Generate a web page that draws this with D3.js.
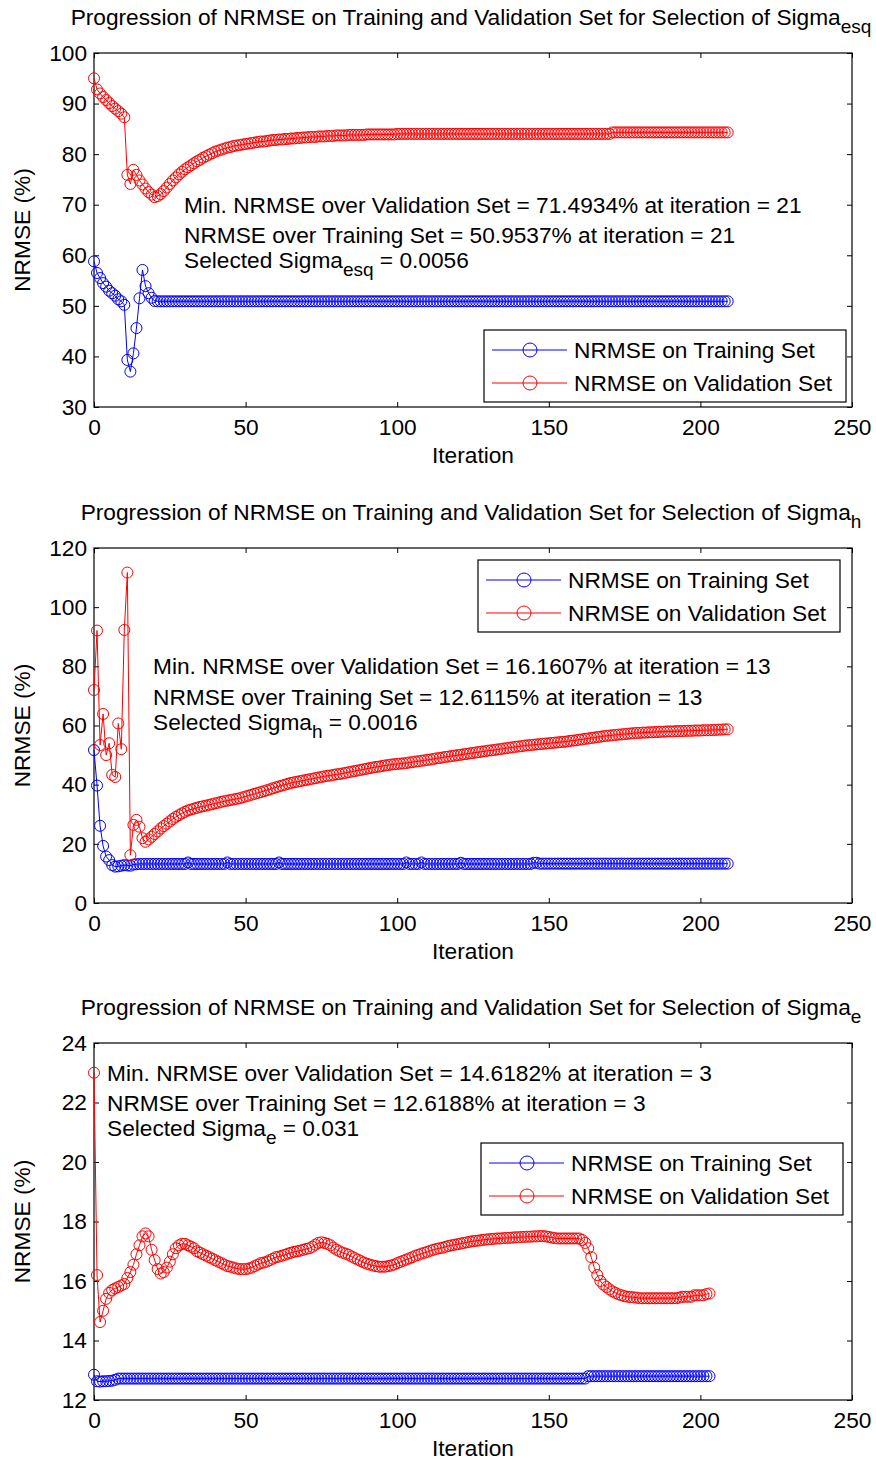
<!DOCTYPE html>
<html>
<head>
<meta charset="utf-8">
<script src="https://cdn.jsdelivr.net/npm/d3@7"></script>
<style>
  body { margin: 0; background: #fff; }
  svg { display: block; }
  text { font-family: "Liberation Sans", Arial, sans-serif; }
</style>
</head>
<body>
<div id="chart"></div>
<script>
// ---- data ----
const xTicks = [0, 50, 100, 150, 200, 250];

// Panel 1: Sigma_esq
const esqTicks = [30, 40, 50, 60, 70, 80, 90, 100];
const esqTrain = [
  58.8, 56.5, 55.5, 54.5, 53.8, 53.0, 52.5, 52.0, 51.3, 50.9,
  50.2, 39.3, 37.0, 40.6, 45.6, 51.5, 57.1, 53.9, 52.5, 51.6,
  50.95, 50.9, 50.9, 50.9, 50.9, 50.9, 50.9, 50.9, 50.9, 50.9,
  50.9, 50.9, 50.9, 50.9, 50.9, 50.9, 50.9, 50.9, 50.9, 50.9,
  50.9, 50.9, 50.9, 50.9, 50.9, 50.9, 50.9, 50.9, 50.9, 50.9,
  50.9, 50.9, 50.9, 50.9, 50.9, 50.9, 50.9, 50.9, 50.9, 50.9,
  50.9, 50.9, 50.9, 50.9, 50.9, 50.9, 50.9, 50.9, 50.9, 50.9,
  50.9, 50.9, 50.9, 50.9, 50.9, 50.9, 50.9, 50.9, 50.9, 50.9,
  50.9, 50.9, 50.9, 50.9, 50.9, 50.9, 50.9, 50.9, 50.9, 50.9,
  50.9, 50.9, 50.9, 50.9, 50.9, 50.9, 50.9, 50.9, 50.9, 50.9,
  50.9, 50.9, 50.9, 50.9, 50.9, 50.9, 50.9, 50.9, 50.9, 50.9,
  50.9, 50.9, 50.9, 50.9, 50.9, 50.9, 50.9, 50.9, 50.9, 50.9,
  50.9, 50.9, 50.9, 50.9, 50.9, 50.9, 50.9, 50.9, 50.9, 50.9,
  50.9, 50.9, 50.9, 50.9, 50.9, 50.9, 50.9, 50.9, 50.9, 50.9,
  50.9, 50.9, 50.9, 50.9, 50.9, 50.9, 50.9, 50.9, 50.9, 50.9,
  50.9, 50.9, 50.9, 50.9, 50.9, 50.9, 50.9, 50.9, 50.9, 50.9,
  50.9, 50.9, 50.9, 50.9, 50.9, 50.9, 50.9, 50.9, 50.9, 50.9,
  50.9, 50.9, 50.9, 50.9, 50.9, 50.9, 50.9, 50.9, 50.9, 50.9,
  50.9, 50.9, 50.9, 50.9, 50.9, 50.9, 50.9, 50.9, 50.9, 50.9,
  50.9, 50.9, 50.9, 50.9, 50.9, 50.9, 50.9, 50.9, 50.9, 50.9,
  50.9, 50.9, 50.9, 50.9, 50.9, 50.9, 50.9, 50.9, 50.9, 50.9
];
const esqVal = [
  95.0, 92.8, 92.0, 91.3, 90.7, 90.1, 89.5, 89.0, 88.5, 88.0,
  87.3, 75.9, 74.1, 76.9, 75.9, 74.8, 74.0, 73.2, 72.5, 72.0,
  71.49, 71.7, 72.1, 72.7, 73.4, 74.1, 74.8, 75.4, 76.0, 76.5,
  77.0, 77.4, 77.8, 78.2, 78.6, 78.9, 79.3, 79.6, 79.9, 80.2,
  80.5, 80.7, 80.9, 81.1, 81.3, 81.4, 81.6, 81.7, 81.8, 81.9,
  82.0, 82.1, 82.2, 82.3, 82.4, 82.5, 82.5, 82.6, 82.7, 82.8,
  82.8, 82.9, 82.9, 83.0, 83.0, 83.1, 83.1, 83.2, 83.2, 83.3,
  83.3, 83.4, 83.4, 83.4, 83.5, 83.5, 83.5, 83.6, 83.6, 83.6,
  83.7, 83.7, 83.7, 83.7, 83.8, 83.8, 83.8, 83.8, 83.8, 83.8,
  83.9, 83.9, 83.9, 83.9, 83.9, 83.9, 83.9, 83.9, 83.9, 83.9,
  84.0, 84.0, 84.0, 84.0, 84.0, 84.0, 84.0, 84.0, 84.0, 84.0,
  84.0, 84.0, 84.0, 84.0, 84.0, 84.0, 84.0, 84.0, 84.0, 84.0,
  84.0, 84.0, 84.0, 84.0, 84.0, 84.0, 84.0, 84.0, 84.0, 84.0,
  84.0, 84.0, 84.0, 84.0, 84.0, 84.0, 84.0, 84.0, 84.0, 84.0,
  84.0, 84.0, 84.0, 84.0, 84.0, 84.0, 84.0, 84.0, 84.0, 84.0,
  84.0, 84.0, 84.0, 84.0, 84.0, 84.0, 84.0, 84.0, 84.0, 84.0,
  84.0, 84.0, 84.0, 84.0, 84.0, 84.0, 84.0, 84.0, 84.0, 84.0,
  84.0, 84.3, 84.3, 84.3, 84.3, 84.3, 84.3, 84.3, 84.3, 84.3,
  84.3, 84.3, 84.3, 84.3, 84.3, 84.3, 84.3, 84.3, 84.3, 84.3,
  84.3, 84.3, 84.3, 84.3, 84.3, 84.3, 84.3, 84.3, 84.3, 84.3,
  84.3, 84.3, 84.3, 84.3, 84.3, 84.3, 84.3, 84.3, 84.3, 84.3
];

// Panel 2: Sigma_h
const hTicks = [0, 20, 40, 60, 80, 100, 120];
const hTrain = [
  51.7, 39.7, 26.1, 19.3, 15.7, 14.5, 12.8, 12.3, 12.4, 12.6,
  12.8, 12.7, 12.61, 13.0, 13.1, 13.2, 13.2, 13.2, 13.2, 13.2,
  13.2, 13.2, 13.2, 13.2, 13.2, 13.2, 13.2, 13.2, 13.2, 13.2,
  13.2, 13.7, 13.2, 13.2, 13.2, 13.2, 13.2, 13.2, 13.2, 13.2,
  13.2, 13.2, 13.2, 13.2, 13.7, 13.2, 13.2, 13.2, 13.2, 13.2,
  13.2, 13.2, 13.2, 13.2, 13.2, 13.2, 13.2, 13.2, 13.2, 13.2,
  13.2, 13.7, 13.2, 13.2, 13.2, 13.2, 13.2, 13.2, 13.2, 13.2,
  13.2, 13.2, 13.2, 13.2, 13.2, 13.2, 13.2, 13.2, 13.2, 13.2,
  13.2, 13.2, 13.2, 13.2, 13.2, 13.2, 13.2, 13.2, 13.2, 13.2,
  13.2, 13.2, 13.2, 13.2, 13.2, 13.2, 13.2, 13.2, 13.2, 13.2,
  13.2, 13.2, 13.2, 13.7, 13.2, 13.2, 13.2, 13.2, 13.7, 13.2,
  13.2, 13.2, 13.2, 13.2, 13.2, 13.2, 13.2, 13.2, 13.2, 13.2,
  13.2, 13.6, 13.2, 13.2, 13.2, 13.2, 13.2, 13.2, 13.2, 13.2,
  13.2, 13.2, 13.2, 13.2, 13.2, 13.2, 13.2, 13.2, 13.2, 13.2,
  13.2, 13.2, 13.2, 13.2, 13.2, 13.6, 13.6, 13.3, 13.3, 13.3,
  13.3, 13.3, 13.3, 13.3, 13.3, 13.3, 13.3, 13.3, 13.3, 13.3,
  13.3, 13.3, 13.3, 13.3, 13.3, 13.3, 13.3, 13.3, 13.3, 13.3,
  13.3, 13.3, 13.3, 13.3, 13.3, 13.3, 13.3, 13.3, 13.3, 13.3,
  13.3, 13.3, 13.3, 13.3, 13.3, 13.3, 13.3, 13.3, 13.3, 13.3,
  13.3, 13.3, 13.3, 13.3, 13.3, 13.3, 13.3, 13.3, 13.3, 13.3,
  13.3, 13.3, 13.3, 13.3, 13.3, 13.3, 13.3, 13.3, 13.3, 13.3
];
const hVal = [
  72.0, 92.1, 53.4, 63.9, 50.0, 54.0, 43.3, 42.6, 60.7, 52.0,
  92.3, 111.7, 16.16, 26.4, 28.1, 25.8, 21.9, 20.7, 21.5, 22.4,
  23.3, 24.2, 25.2, 26.0, 26.8, 27.6, 28.4, 29.1, 29.7, 30.3,
  30.8, 31.3, 31.6, 31.9, 32.2, 32.5, 32.7, 32.9, 33.2, 33.4,
  33.7, 33.9, 34.2, 34.4, 34.6, 34.8, 35.0, 35.2, 35.4, 35.7,
  36.0, 36.3, 36.6, 36.9, 37.2, 37.5, 37.8, 38.1, 38.4, 38.8,
  39.1, 39.4, 39.7, 40.0, 40.3, 40.6, 40.8, 41.0, 41.2, 41.4,
  41.6, 41.8, 42.0, 42.2, 42.4, 42.6, 42.8, 43.0, 43.1, 43.3,
  43.5, 43.6, 43.8, 44.0, 44.2, 44.4, 44.6, 44.8, 45.0, 45.2,
  45.4, 45.6, 45.8, 46.0, 46.1, 46.3, 46.5, 46.6, 46.8, 46.9,
  47.0, 47.1, 47.2, 47.3, 47.5, 47.6, 47.8, 47.9, 48.1, 48.2,
  48.4, 48.5, 48.7, 48.9, 49.0, 49.2, 49.4, 49.5, 49.7, 49.8,
  50.0, 50.1, 50.3, 50.4, 50.6, 50.7, 50.9, 51.0, 51.2, 51.3,
  51.5, 51.6, 51.7, 51.9, 52.0, 52.2, 52.3, 52.5, 52.6, 52.8,
  52.9, 53.0, 53.2, 53.3, 53.4, 53.5, 53.6, 53.7, 53.8, 53.9,
  54.0, 54.1, 54.2, 54.3, 54.4, 54.5, 54.6, 54.8, 54.9, 55.0,
  55.2, 55.3, 55.5, 55.6, 55.8, 55.9, 56.1, 56.2, 56.4, 56.5,
  56.6, 56.7, 56.8, 56.9, 57.0, 57.1, 57.2, 57.3, 57.4, 57.5,
  57.5, 57.6, 57.6, 57.7, 57.7, 57.8, 57.8, 57.9, 57.9, 58.0,
  58.0, 58.0, 58.1, 58.1, 58.1, 58.2, 58.2, 58.2, 58.3, 58.3,
  58.3, 58.4, 58.4, 58.4, 58.5, 58.5, 58.6, 58.6, 58.7, 58.7
];

// Panel 3: Sigma_e
const eTicks = [12, 14, 16, 18, 20, 22, 24];
const eTrain = [
  12.85, 12.63, 12.62, 12.63, 12.63, 12.64, 12.65, 12.68, 12.72, 12.72,
  12.72, 12.72, 12.72, 12.72, 12.72, 12.72, 12.72, 12.72, 12.72, 12.72,
  12.72, 12.72, 12.72, 12.72, 12.72, 12.72, 12.72, 12.72, 12.72, 12.72,
  12.72, 12.72, 12.72, 12.72, 12.72, 12.72, 12.72, 12.72, 12.72, 12.72,
  12.72, 12.72, 12.72, 12.72, 12.72, 12.72, 12.72, 12.72, 12.72, 12.72,
  12.72, 12.72, 12.72, 12.72, 12.72, 12.72, 12.72, 12.72, 12.72, 12.72,
  12.72, 12.72, 12.72, 12.72, 12.72, 12.72, 12.72, 12.72, 12.72, 12.72,
  12.72, 12.72, 12.72, 12.72, 12.72, 12.72, 12.72, 12.72, 12.72, 12.72,
  12.72, 12.72, 12.72, 12.72, 12.72, 12.72, 12.72, 12.72, 12.72, 12.72,
  12.72, 12.72, 12.72, 12.72, 12.72, 12.72, 12.72, 12.72, 12.72, 12.72,
  12.72, 12.72, 12.72, 12.72, 12.72, 12.72, 12.72, 12.72, 12.72, 12.72,
  12.72, 12.72, 12.72, 12.72, 12.72, 12.72, 12.72, 12.72, 12.72, 12.72,
  12.72, 12.72, 12.72, 12.72, 12.72, 12.72, 12.72, 12.72, 12.72, 12.72,
  12.72, 12.72, 12.72, 12.72, 12.72, 12.72, 12.72, 12.72, 12.72, 12.72,
  12.72, 12.72, 12.72, 12.72, 12.72, 12.72, 12.72, 12.72, 12.72, 12.72,
  12.72, 12.72, 12.72, 12.72, 12.72, 12.72, 12.72, 12.72, 12.72, 12.72,
  12.72, 12.72, 12.72, 12.80, 12.80, 12.80, 12.80, 12.80, 12.80, 12.80,
  12.80, 12.80, 12.80, 12.80, 12.80, 12.80, 12.80, 12.80, 12.80, 12.80,
  12.80, 12.80, 12.80, 12.80, 12.80, 12.80, 12.80, 12.80, 12.80, 12.80,
  12.80, 12.80, 12.80, 12.80, 12.80, 12.80, 12.80, 12.80, 12.80, 12.80,
  12.80, 12.80, 12.80, 12.80
];
const eVal = [
  23.0, 16.2, 14.62, 15.0, 15.4, 15.6, 15.7, 15.75, 15.8, 15.85,
  15.9, 16.1, 16.3, 16.55, 16.9, 17.2, 17.5, 17.6, 17.5, 17.05,
  16.7, 16.4, 16.25, 16.3, 16.45, 16.65, 16.9, 17.1, 17.2, 17.25,
  17.25, 17.2, 17.15, 17.1, 17.0, 16.95, 16.9, 16.85, 16.8, 16.75,
  16.7, 16.65, 16.6, 16.55, 16.5, 16.48, 16.45, 16.42, 16.4, 16.4,
  16.4, 16.42, 16.45, 16.5, 16.55, 16.6, 16.62, 16.65, 16.7, 16.75,
  16.8, 16.82, 16.85, 16.88, 16.92, 16.95, 16.98, 17.0, 17.02, 17.05,
  17.08, 17.1, 17.15, 17.22, 17.28, 17.3, 17.28, 17.25, 17.2, 17.12,
  17.05, 17.0, 16.95, 16.92, 16.88, 16.82, 16.77, 16.72, 16.67, 16.62,
  16.58, 16.55, 16.52, 16.5, 16.48, 16.48, 16.48, 16.5, 16.52, 16.55,
  16.6, 16.64, 16.68, 16.72, 16.76, 16.8, 16.85, 16.88, 16.92, 16.95,
  16.98, 17.02, 17.05, 17.08, 17.1, 17.12, 17.15, 17.18, 17.2, 17.22,
  17.24, 17.26, 17.28, 17.3, 17.32, 17.34, 17.35, 17.36, 17.38, 17.39,
  17.4, 17.41, 17.42, 17.43, 17.43, 17.44, 17.45, 17.45, 17.46, 17.47,
  17.47, 17.48, 17.48, 17.49, 17.49, 17.5, 17.5, 17.51, 17.51, 17.5,
  17.48, 17.46, 17.44, 17.43, 17.43, 17.43, 17.43, 17.43, 17.43, 17.43,
  17.43, 17.38, 17.28, 17.1, 16.8, 16.45, 16.2, 16.0, 15.88, 15.8,
  15.72, 15.65, 15.6, 15.55, 15.52, 15.49, 15.47, 15.46, 15.45, 15.44,
  15.42, 15.42, 15.42, 15.42, 15.42, 15.42, 15.42, 15.42, 15.42, 15.42,
  15.42, 15.42, 15.42, 15.44, 15.47, 15.47, 15.47, 15.47, 15.52, 15.52,
  15.52, 15.52, 15.56, 15.58
];

const seriesNames = ["NRMSE on Training Set", "NRMSE on Validation Set"];
const seriesColors = ["#0000ff", "#ff0000"];
const titleMain = "Progression of NRMSE on Training and Validation Set for Selection of Sigma";

// ---- drawing ----
const W = 876, H = 1461;
const left = 94, right = 852;
const fontSize = 22.7;
const fontFamily = "'Liberation Sans', Arial, sans-serif";

const svg = d3.select("#chart")
    .append("svg")
    .attr("width", W)
    .attr("height", H);

svg.append("rect").attr("width", W).attr("height", H).attr("fill", "#fff");

function drawPanel(p) {
    const x = d3.scaleLinear().domain([0, 250]).range([left, right]);
    const y = d3.scaleLinear().domain(p.yDomain).range([p.bottom, p.top]);
    const g = svg.append("g");

    // Axes box
    g.append("rect")
        .attr("x", left).attr("y", p.top)
        .attr("width", right - left).attr("height", p.bottom - p.top)
        .attr("fill", "none").attr("stroke", "#000").attr("stroke-width", 1.2);

    // Ticks on all four sides, pointing inward (MATLAB style)
    const addAxis = (gen, tr) => {
        const a = g.append("g")
            .attr("transform", tr)
            .call(gen);
        // d3 sets its own font on call, so override afterwards
        a.attr("font-family", fontFamily).attr("font-size", fontSize);
        a.select(".domain").remove();
        a.selectAll("text").attr("fill", "#000");
        a.selectAll("line").attr("stroke", "#000");
        return a;
    };
    addAxis(d3.axisBottom(x).tickValues(xTicks).tickSize(-5).tickPadding(12), `translate(0,${p.bottom})`);
    addAxis(d3.axisTop(x).tickValues(xTicks).tickSize(-5).tickFormat(""), `translate(0,${p.top})`);
    addAxis(d3.axisLeft(y).tickValues(p.yTicks).tickSize(-5).tickPadding(7), `translate(${left},0)`);
    addAxis(d3.axisRight(y).tickValues(p.yTicks).tickSize(-5).tickFormat(""), `translate(${right},0)`);

    // Series: training first, validation on top
    [p.train, p.val].forEach((data, k) => {
        const line = d3.line().x((d, i) => x(i)).y(d => y(d));
        g.append("path")
            .datum(data)
            .attr("fill", "none")
            .attr("stroke", seriesColors[k])
            .attr("stroke-width", 1)
            .attr("d", line);
        g.append("g").selectAll("circle")
            .data(data)
            .enter()
            .append("circle")
            .attr("cx", (d, i) => x(i))
            .attr("cy", d => y(d))
            .attr("r", 5.5)
            .attr("fill", "none")
            .attr("stroke", seriesColors[k])
            .attr("stroke-width", 1);
    });

    // Title with subscript
    const title = g.append("text")
        .attr("x", 471)
        .attr("y", p.top - 28)
        .attr("text-anchor", "middle")
        .attr("font-size", fontSize)
        .attr("fill", "#000");
    title.append("tspan").text(titleMain);
    title.append("tspan").attr("dy", 8).attr("font-size", 19).text(p.sub);

    // Axis labels
    g.append("text")
        .attr("x", (left + right) / 2)
        .attr("y", p.bottom + 56)
        .attr("text-anchor", "middle")
        .attr("font-size", fontSize)
        .text("Iteration");
    g.append("text")
        .attr("transform", `translate(30,${(p.top + p.bottom) / 2}) rotate(-90)`)
        .attr("text-anchor", "middle")
        .attr("font-size", fontSize)
        .text("NRMSE (%)");

    // Annotation
    const [l1, l2, l3] = p.note;
    g.append("text").attr("x", p.noteX).attr("y", p.noteY[0])
        .attr("font-size", fontSize).text(l1);
    g.append("text").attr("x", p.noteX).attr("y", p.noteY[1])
        .attr("font-size", fontSize).text(l2);
    const t3 = g.append("text").attr("x", p.noteX).attr("y", p.noteY[2])
        .attr("font-size", fontSize);
    t3.append("tspan").text("Selected Sigma");
    t3.append("tspan").attr("dy", 8).attr("font-size", 19).text(p.sub);
    t3.append("tspan").attr("dy", -8).text(" = " + l3);

    // Legend
    const lg = g.append("g").attr("transform", `translate(${p.legend[0]},${p.legend[1]})`);
    lg.append("rect")
        .attr("width", 362).attr("height", 72)
        .attr("fill", "#fff").attr("stroke", "#000").attr("stroke-width", 1.2);
    seriesNames.forEach((name, k) => {
        const yy = 20 + k * 33;
        lg.append("line")
            .attr("x1", 8).attr("x2", 83).attr("y1", yy).attr("y2", yy)
            .attr("stroke", seriesColors[k]).attr("stroke-width", 1);
        lg.append("circle")
            .attr("cx", 46).attr("cy", yy).attr("r", 7)
            .attr("fill", "none").attr("stroke", seriesColors[k]);
        lg.append("text")
            .attr("x", 90).attr("y", yy + 8)
            .attr("font-size", fontSize)
            .text(name);
    });
}

drawPanel({
    top: 53, bottom: 407, yDomain: [30, 100], yTicks: esqTicks,
    train: esqTrain, val: esqVal, sub: "esq",
    note: ["Min. NRMSE over Validation Set = 71.4934% at iteration = 21",
           "NRMSE over Training Set = 50.9537% at iteration = 21",
           "0.0056"],
    noteX: 184, noteY: [213, 243, 268],
    legend: [484, 330]
});

drawPanel({
    top: 548, bottom: 903, yDomain: [0, 120], yTicks: hTicks,
    train: hTrain, val: hVal, sub: "h",
    note: ["Min. NRMSE over Validation Set = 16.1607% at iteration = 13",
           "NRMSE over Training Set = 12.6115% at iteration = 13",
           "0.0016"],
    noteX: 153, noteY: [674, 705, 730],
    legend: [478, 560]
});

drawPanel({
    top: 1043, bottom: 1400, yDomain: [12, 24], yTicks: eTicks,
    train: eTrain, val: eVal, sub: "e",
    note: ["Min. NRMSE over Validation Set = 14.6182% at iteration = 3",
           "NRMSE over Training Set = 12.6188% at iteration = 3",
           "0.031"],
    noteX: 107, noteY: [1081, 1111, 1136],
    legend: [481, 1143]
});
</script>
</body>
</html>
